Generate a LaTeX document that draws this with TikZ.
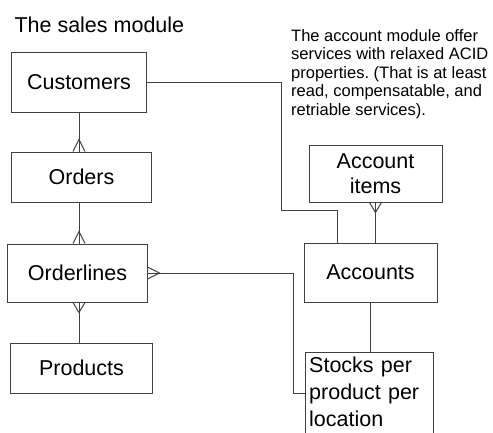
\documentclass[tikz,border=0pt]{standalone}
\usepackage{fontspec}
\setmainfont{Liberation Sans}
\usetikzlibrary{calc}
\frenchspacing
\definecolor{linecolor}{HTML}{404040}
\tikzstyle{entity} = [
    draw=linecolor,
    line width=1bp,
    rectangle,
    inner sep=0pt,
    align=center,
    font=\fontsize{21.5bp}{25bp}\selectfont
    ]
\tikzstyle{rel} = [
    draw=linecolor,
    line width=1bp
    ]
\newcommand{\crow}[3]{% crow's foot: end, apex offset, half spread
\draw[rel] ($(#1)+(#3)$) -- ($(#1)+(#2)$) -- ($(#1)-(#3)$);}

\begin{document}
\begin{tikzpicture}[x=1bp,y=-1bp]
\clip (0,0) rectangle (493,432);

\node[anchor=base west, font=\fontsize{21.5bp}{25bp}\selectfont] (title) at (11,32) {The sales module};
\node[anchor=north west, align=left, inner sep=0pt, font=\fontsize{16.5bp}{18.5bp}\selectfont] (note) at (291,29) {%
The account module offer\\
services with relaxed ACID\\
properties. (That is at least\\
read, compensatable, and\\
retriable services).};

\node[entity, minimum width=134bp, minimum height=60bp] (cust) at (79,82) {Customers};
\node[entity, minimum width=139bp, minimum height=50bp] (orders) at (81.5,177) {Orders};
\node[entity, minimum width=139bp, minimum height=58bp] (olines) at (77.5,273) {Orderlines};
\node[entity, minimum width=141bp, minimum height=50bp] (prods) at (81.5,368) {Products};

\node[entity, minimum width=133bp, minimum height=57bp] (accitems) at (375.5,173.5) {Account\\items};
\node[entity, minimum width=133bp, minimum height=59bp] (accounts) at (370.5,272.5) {Accounts};
\node[anchor=north west, align=left, text width=120bp, inner xsep=4bp, inner ysep=4.8bp,
    font=\fontsize{21.5bp}{27bp}\selectfont] (stocks) at (305,352) {Stocks per\\product per\\location};
\draw[rel] (stocks.north west) rectangle ($(stocks.north east)+(0,100)$);

\coordinate (jog) at (293,0);
\coordinate (stockin) at ($(stocks.north west)+(0,41)$);
\coordinate (jog2) at (281,210);
\coordinate (accin) at ($(accounts.north west)+(34,0)$);

% sales module
\draw[rel] (cust.south) -- (cust.south |- orders.north);
\crow{cust.south |- orders.north}{0,-12}{6,0}
\draw[rel] (cust.south |- orders.south) -- (cust.south |- olines.north);
\crow{cust.south |- olines.north}{0,-12}{6,0}
\draw[rel] (cust.south |- olines.south) -- (cust.south |- prods.north);
\crow{cust.south |- olines.south}{0,10}{6,0}

% to the account module
\draw[rel] (olines.east) -- (olines.east -| jog) -- (jog |- stockin) -- (stockin);
\crow{olines.east}{12,0}{0,6}
\draw[rel] (cust.east) -| (jog2) -| (accin);
\draw[rel] (accitems.south) -- (accitems.south |- accounts.north);
\crow{accitems.south}{0,10}{6,0}
\draw[rel] (accounts.south) -- (accounts.south |- stocks.north);
\end{tikzpicture}
\end{document}
